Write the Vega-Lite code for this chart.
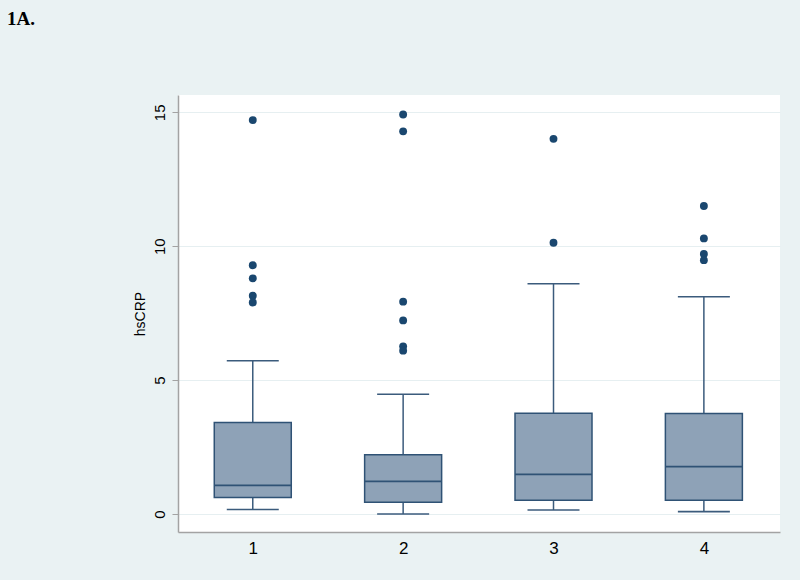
{
  "$schema": "https://vega.github.io/schema/vega-lite/v6.json",
  "autosize": {"type": "none"},
  "padding": {"left": 178, "top": 95, "right": 20, "bottom": 48},
  "width": 602,
  "height": 437,
  "background": "#eaf2f3",
  "title": {
    "text": "1A.",
    "font": "Liberation Serif",
    "fontSize": 19,
    "fontWeight": "bold",
    "color": "black",
    "anchor": "start",
    "frame": "group",
    "baseline": "alphabetic",
    "offset": 51,
    "dx": -171
  },
  "config": {
    "view": {"stroke": null, "fill": "white"},
    "font": "Liberation Sans"
  },
  "datasets": {
    "boxes": [
      {"group": 1, "lower": 0.17, "q1": 0.62, "median": 1.07, "q3": 3.42, "upper": 5.72},
      {"group": 2, "lower": 0.0, "q1": 0.44, "median": 1.22, "q3": 2.21, "upper": 4.47},
      {"group": 3, "lower": 0.15, "q1": 0.51, "median": 1.48, "q3": 3.76, "upper": 8.6},
      {"group": 4, "lower": 0.09, "q1": 0.51, "median": 1.77, "q3": 3.75, "upper": 8.11}
    ],
    "outliers": [
      {"group": 1, "hsCRP": 14.71},
      {"group": 1, "hsCRP": 9.29},
      {"group": 1, "hsCRP": 8.8},
      {"group": 1, "hsCRP": 8.15},
      {"group": 1, "hsCRP": 7.9},
      {"group": 2, "hsCRP": 14.92},
      {"group": 2, "hsCRP": 14.29},
      {"group": 2, "hsCRP": 7.93},
      {"group": 2, "hsCRP": 7.23},
      {"group": 2, "hsCRP": 6.26},
      {"group": 2, "hsCRP": 6.1},
      {"group": 3, "hsCRP": 14.01},
      {"group": 3, "hsCRP": 10.13},
      {"group": 4, "hsCRP": 11.5},
      {"group": 4, "hsCRP": 10.29},
      {"group": 4, "hsCRP": 9.71},
      {"group": 4, "hsCRP": 9.48}
    ]
  },
  "encoding": {
    "x": {
      "field": "group",
      "type": "quantitative",
      "scale": {"domain": [0.536, 4.473], "nice": false, "zero": false},
      "axis": {
        "values": [1, 2, 3, 4],
        "format": "d",
        "title": null,
        "grid": false,
        "ticks": false,
        "labelAngle": 0,
        "labelFontSize": 17,
        "labelColor": "black",
        "labelPadding": 8,
        "domainColor": "#a3a3a3",
        "domainWidth": 1.5
      }
    }
  },
  "layer": [
    {
      "data": {"name": "boxes"},
      "mark": {"type": "rule", "color": "#3b5b7c", "strokeWidth": 1.5},
      "encoding": {
        "y": {
          "field": "lower",
          "type": "quantitative",
          "title": "hsCRP",
          "scale": {"domain": [-0.672, 15.646], "nice": false, "zero": false},
          "axis": {
            "values": [0, 5, 10, 15],
            "labelAngle": -90,
            "labelFontSize": 15,
            "labelColor": "black",
            "labelPadding": 5,
            "tickSize": 6,
            "tickColor": "#a3a3a3",
            "domainColor": "#a3a3a3",
            "domainWidth": 1.5,
            "grid": true,
            "gridColor": "#e6eff1",
            "gridWidth": 1,
            "titleFontSize": 14,
            "titleFontWeight": "normal",
            "titleColor": "black",
            "titlePadding": 5
          }
        },
        "y2": {"field": "q1"}
      }
    },
    {
      "data": {"name": "boxes"},
      "mark": {"type": "rule", "color": "#3b5b7c", "strokeWidth": 1.5},
      "encoding": {
        "y": {"field": "q3", "type": "quantitative", "title": "hsCRP"},
        "y2": {"field": "upper"}
      }
    },
    {
      "data": {"name": "boxes"},
      "mark": {"type": "bar", "orient": "vertical", "size": 77, "fill": "#8ea2b7", "stroke": "#2f5275", "strokeWidth": 1.5},
      "encoding": {
        "y": {"field": "q1", "type": "quantitative", "title": "hsCRP"},
        "y2": {"field": "q3"}
      }
    },
    {
      "data": {"name": "boxes"},
      "mark": {"type": "tick", "orient": "horizontal", "size": 77, "thickness": 1.6, "color": "#2f5275", "opacity": 1},
      "encoding": {
        "y": {"field": "median", "type": "quantitative", "title": "hsCRP"}
      }
    },
    {
      "data": {"name": "boxes"},
      "mark": {"type": "tick", "orient": "horizontal", "size": 52, "thickness": 1.6, "color": "#3b5b7c", "opacity": 1},
      "encoding": {
        "y": {"field": "lower", "type": "quantitative", "title": "hsCRP"}
      }
    },
    {
      "data": {"name": "boxes"},
      "mark": {"type": "tick", "orient": "horizontal", "size": 52, "thickness": 1.6, "color": "#3b5b7c", "opacity": 1},
      "encoding": {
        "y": {"field": "upper", "type": "quantitative", "title": "hsCRP"}
      }
    },
    {
      "data": {"name": "outliers"},
      "mark": {"type": "point", "filled": true, "shape": "circle", "size": 62, "color": "#1a476f", "opacity": 1},
      "encoding": {
        "y": {"field": "hsCRP", "type": "quantitative", "title": "hsCRP"}
      }
    }
  ]
}
